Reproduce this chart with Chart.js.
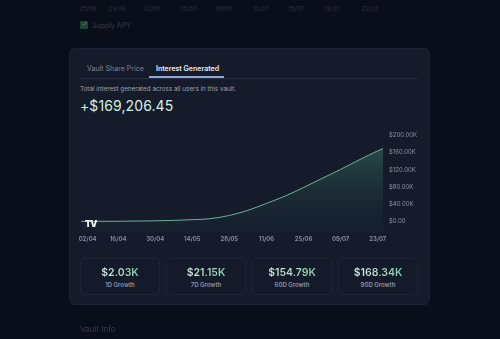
<!DOCTYPE html>
<html>
<head>
<meta charset="utf-8">
<script src="https://cdn.jsdelivr.net/npm/chart.js@4.4.1/dist/chart.umd.min.js"></script>
<style>
  html, body { margin: 0; padding: 0; }
  body { width: 500px; height: 339px; background: #0a0e1a; font-family: Inter, "Noto Sans", sans-serif; position: relative; overflow: hidden; }
  .abs { position: absolute; white-space: nowrap; }
  .toplbl { position: absolute; top: 5px; font-size: 6px; color: #2a3142; transform: translateX(-50%); }
  .card { position: absolute; left: 69px; top: 48px; width: 361px; height: 257px; background: #151b2b; border: 1px solid #1c2233; border-radius: 6px; box-sizing: border-box; }
  .stat { position: absolute; top: 258px; height: 37px; background: #141a29; border: 1px solid #1d2435; border-radius: 4px; box-sizing: border-box; text-align: center; }
  .stat .v { margin-top: 8px; font-size: 10.5px; font-weight: 600; line-height: 12px; display: inline-block;
    background: linear-gradient(90deg, #d3e9df 0%, #b6e0cb 45%, #84cda8 100%); -webkit-background-clip: text; background-clip: text; color: transparent; }
  .stat .l { margin-top: 1px; font-size: 6px; font-weight: 600; color: #8b93a5; line-height: 8px; }
  #wrap { position: absolute; left: 70px; top: 120px; width: 360px; height: 128px; }
</style>
</head>
<body>
<div id="topLabelsRow"></div>
<div class="abs" style="left:80px;top:21px;width:8px;height:8px;background:#1d4536;border-radius:1px;"></div>
<div class="abs" style="left:81px;top:19px;font-size:7px;color:#4f8f72;">✓</div>
<div class="abs" style="left:92px;top:21px;font-size:7px;color:#323a4c;">Supply APY</div>

<div class="card"></div>
<div class="abs" style="left:87px;top:64px;font-size:7px;color:#7d8597;">Vault Share Price</div>
<div class="abs" style="left:156px;top:64px;font-size:7px;font-weight:600;color:#e8ebf2;">Interest Generated</div>
<div class="abs" style="left:80px;top:78px;width:338px;height:1px;background:#252c3d;"></div>
<div class="abs" style="left:149px;top:76px;width:75px;height:2px;background:#8ea6d4;"></div>
<div class="abs" style="left:80px;top:85px;font-size:6.3px;color:#9aa2b3;">Total interest generated across all users in this vault.</div>
<div class="abs" style="left:80px;top:97px;font-size:14px;color:#d4efe2;letter-spacing:0.1px;">+$169,206.45</div>

<div id="wrap"><canvas id="chart-interest"></canvas></div>
<div class="abs" style="left:85px;top:218px;font-size:9px;font-weight:900;color:#f2f4f8;letter-spacing:-1px;">TV</div>

<div id="stats"></div>
<div class="abs" style="left:80px;top:324px;font-size:8px;color:#343b4d;">Vault Info</div>

<script>
// days since 02/04 and total interest generated (USD)
const days = [0, 7, 14, 21, 28, 35, 42, 48, 56, 63, 70, 77, 84, 91, 98, 105, 112, 114];
const interest = [300, 400, 600, 1100, 1600, 2600, 4300, 6000, 14000, 26000, 42000, 59000, 79000, 100000, 121000, 143000, 164000, 169206];

const xTickDays = [0, 14, 28, 42, 56, 70, 84, 98, 112];
const xLabels = ['02/04', '16/04', '30/04', '14/05', '28/05', '11/06', '25/06', '09/07', '23/07'];
const yTicks = [0, 40000, 80000, 120000, 160000, 200000];

const topLabels = ['25/06', '29/06', '02/07', '05/07', '09/07', '12/07', '15/07', '19/07', '22/07'];
const topLabelX = [88, 117, 152, 188, 224, 261, 296, 332, 370];

const statValues = ['$2.03K', '$21.15K', '$154.79K', '$168.34K'];
const statLabels = ['1D Growth', '7D Growth', '60D Growth', '90D Growth'];
const statBoxX = [80, 166, 252, 338];

// faded labels of the chart above
const topRow = document.getElementById('topLabelsRow');
topLabels.forEach((t, i) => {
  const s = document.createElement('div');
  s.className = 'toplbl'; s.style.left = topLabelX[i] + 'px'; s.innerText = t;
  topRow.appendChild(s);
});

// growth cards
const stats = document.getElementById('stats');
statValues.forEach((v, i) => {
  const b = document.createElement('div');
  b.className = 'stat'; b.style.left = statBoxX[i] + 'px'; b.style.width = '80px';
  b.innerHTML = '<div class="v">' + v + '</div><div class="l">' + statLabels[i] + '</div>';
  stats.appendChild(b);
});

function fmtK(v) { return v === 0 ? '$0.00' : '$' + (v / 1000).toFixed(2) + 'K'; }

const ctx = document.getElementById('chart-interest').getContext('2d');
new Chart(ctx, {
  type: 'line',
  data: {
    datasets: [{
      data: days.map((d, i) => ({ x: d, y: interest[i] })),
      borderColor: '#6db497',
      borderWidth: 1,
      pointRadius: 0,
      cubicInterpolationMode: 'monotone',
      fill: 'start',
      backgroundColor: (c) => {
        const a = c.chart.chartArea;
        if (!a) return 'rgba(60,130,105,0.3)';
        const g = c.chart.ctx.createLinearGradient(0, a.top, 0, a.bottom);
        g.addColorStop(0, 'rgba(66,140,112,0.55)');
        g.addColorStop(1, 'rgba(30,50,60,0.15)');
        return g;
      }
    }]
  },
  options: {
    responsive: true, maintainAspectRatio: false, animation: false,
    layout: { padding: { left: 11, top: 5, right: 0, bottom: 0 } },
    plugins: { legend: { display: false }, tooltip: { enabled: false } },
    scales: {
      x: {
        type: 'linear', min: 0, max: 114,
        grid: { display: false, drawTicks: false }, border: { display: false },
        afterBuildTicks: (s) => { s.ticks = xTickDays.map((d, i) => ({ value: i === 0 ? d + 2.5 : d })); },
        afterFit: (s) => { s.height = 15; },
        ticks: { color: '#8b93a5', font: { size: 6, weight: '600', family: 'Inter' }, padding: 3, maxRotation: 0, autoSkip: false,
          callback: (v, i) => xLabels[i] }
      },
      y: {
        position: 'right', min: -26667, max: 213333,
        grid: { display: false, drawTicks: false }, border: { display: false },
        afterBuildTicks: (s) => { s.ticks = yTicks.map(v => ({ value: v })); },
        afterFit: (s) => { s.width = 47; },
        ticks: { color: '#8b93a5', font: { size: 6, family: 'Inter' }, padding: 6, callback: (v) => fmtK(v) }
      }
    }
  }
});
</script>
</body>
</html>
